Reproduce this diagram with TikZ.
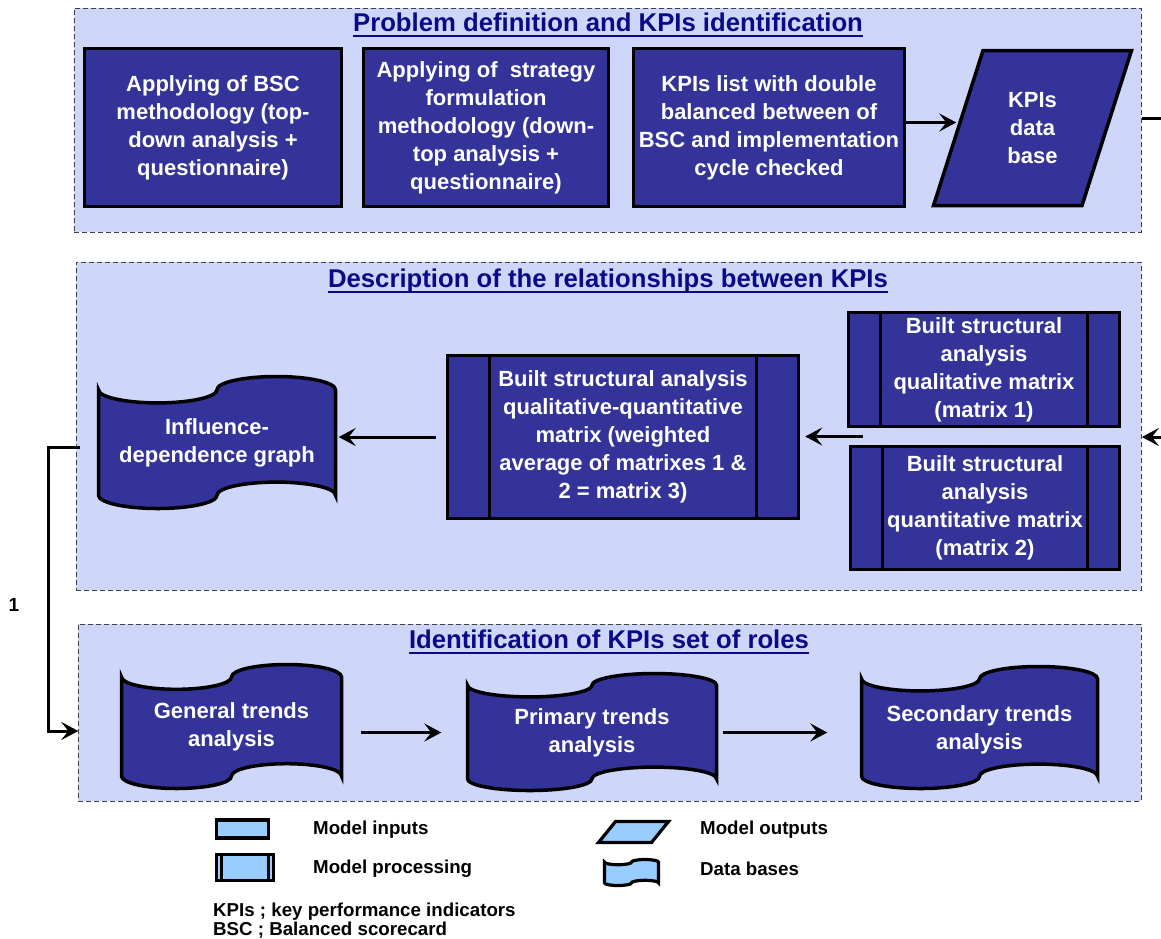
\documentclass[tikz,border=0pt]{standalone}
\usepackage{fontspec}
\setmainfont{Liberation Sans}
\usetikzlibrary{arrows.meta,calc}

\definecolor{panelfill}{HTML}{CED6FA}
\definecolor{navybox}{HTML}{333399}
\definecolor{titleblue}{HTML}{0A0A88}
\definecolor{legendfill}{HTML}{99CCFF}

\tikzset{
  panel/.style={draw=black!75, line width=0.9pt, dash pattern=on 5pt off 3pt, fill=panelfill, inner sep=0},
  boxtext/.style={text=white, font=\bfseries\fontsize{22}{28}\selectfont, align=center, inner sep=0},
  inbox/.style={boxtext, draw=black, line width=3.5pt, fill=navybox},
  shapeline/.style={draw=black, line width=3.5pt, fill=navybox},
  procline/.style={draw=black, line width=3pt},
  conn/.style={draw=black, line width=3pt, -{Stealth[length=17pt,width=18pt,inset=7pt]}},
  plainline/.style={draw=black, line width=3pt},
  paneltitle/.style={text=titleblue, font=\bfseries\fontsize{25.7}{30}\selectfont, inner sep=0, anchor=base},
  titlerule/.style={draw=titleblue, line width=2.2pt},
  legshape/.style={draw=black, line width=3.2pt, fill=legendfill, inner sep=0},
  legtext/.style={font=\bfseries\fontsize{18.7}{19}\selectfont, inner sep=0, anchor=west, align=left},
  numlabel/.style={font=\bfseries\fontsize{19}{22}\selectfont, inner sep=0},
}

% Punched-tape outline: #1 style, #2 left x, #3 top y, #4 width, #5 height
\newcommand{\tapepath}[5]{%
  \pgfmathsetmacro{\tpq}{(#4)/4}%
  \pgfmathsetmacro{\tpa}{(#5)/10}%
  \pgfmathsetmacro{\tpka}{0.5523*\tpa}%
  \pgfmathsetmacro{\tpkq}{0.5523*\tpq}%
  \pgfmathsetmacro{\tptop}{#3+\tpa}%
  \pgfmathsetmacro{\tpbot}{#3+9*\tpa}%
  \pgfmathsetmacro{\tpr}{#2+#4}%
  \draw[#1] (#2,\tptop)
    .. controls (#2,\tptop+\tpka) and (#2+\tpq-\tpkq,\tptop+\tpa) .. (#2+\tpq,\tptop+\tpa)
    .. controls (#2+\tpq+\tpkq,\tptop+\tpa) and (#2+2*\tpq,\tptop+\tpka) .. (#2+2*\tpq,\tptop)
    .. controls (#2+2*\tpq,\tptop-\tpka) and (#2+3*\tpq-\tpkq,\tptop-\tpa) .. (#2+3*\tpq,\tptop-\tpa)
    .. controls (#2+3*\tpq+\tpkq,\tptop-\tpa) and (\tpr,\tptop-\tpka) .. (\tpr,\tptop)
    -- (\tpr,\tpbot)
    .. controls (\tpr,\tpbot-\tpka) and (#2+3*\tpq+\tpkq,\tpbot-\tpa) .. (#2+3*\tpq,\tpbot-\tpa)
    .. controls (#2+3*\tpq-\tpkq,\tpbot-\tpa) and (#2+2*\tpq,\tpbot-\tpka) .. (#2+2*\tpq,\tpbot)
    .. controls (#2+2*\tpq,\tpbot+\tpka) and (#2+\tpq+\tpkq,\tpbot+\tpa) .. (#2+\tpq,\tpbot+\tpa)
    .. controls (#2+\tpq-\tpkq,\tpbot+\tpa) and (#2,\tpbot+\tpka) .. (#2,\tpbot)
    -- cycle;%
}

\begin{document}
\begin{tikzpicture}[x=1pt, y=-1pt]
\useasboundingbox (0,0) rectangle (1161,938);

% ---------- panels ----------
\node[panel, minimum width=1067, minimum height=224, anchor=north west] (toppanel) at (74,8) {};
\node[panel, minimum width=1065, minimum height=328, anchor=north west] (midpanel) at (76,262) {};
\node[panel, minimum width=1063, minimum height=177, anchor=north west] (botpanel) at (78,624) {};

% ---------- panel titles ----------
\node[paneltitle] (t1) at (608,31) {Problem definition and KPIs identification};
\draw[titlerule] ([yshift=-5pt]t1.base west) -- ([yshift=-5pt]t1.base east);
\node[paneltitle] (t2) at (608,287) {Description of the relationships between KPIs};
\draw[titlerule] ([yshift=-5pt]t2.base west) -- ([yshift=-5pt]t2.base east);
\node[paneltitle] (t3) at (609,648) {Identification of KPIs set of roles};
\draw[titlerule] ([yshift=-5pt]t3.base west) -- ([yshift=-5pt]t3.base east);

% ---------- problem definition ----------
\node[inbox, minimum width=257, minimum height=158] (box1) at (213,127.5)
  {Applying of BSC\\methodology (top-\\down analysis +\\questionnaire)};
\node[inbox, minimum width=245, minimum height=158] (box2) at (486,127.5)
  {Applying of\ \ strategy\\formulation\\methodology (down-\\top analysis +\\questionnaire)};
\node[inbox, minimum width=271, minimum height=158] (box3) at (769,127.5)
  {KPIs list with double\\balanced between of\\BSC and implementation\\cycle checked};

\coordinate (pa) at (933.5,205.5);
\coordinate (pb) at (983,50.5);
\coordinate (pc) at (1131.5,50.5);
\coordinate (pd) at (1082,205.5);
\draw[shapeline] (pa) -- (pb) -- (pc) -- (pd) -- cycle;
\node[boxtext] (kpidb) at (1032.5,128) {KPIs\\data\\base};

\draw[conn] ([yshift=5pt]box3.east) -- ++(50,0);
\coordinate (rout) at (1161,118);
\draw[plainline] (rout -| toppanel.east) -- (rout);

% ---------- relationships between KPIs ----------
\node[inbox, minimum width=271, minimum height=114] (m1) at (984,369.5)
  {Built structural\\analysis\\qualitative matrix\\(matrix 1)};
\draw[procline] ([xshift=34pt]m1.north west) -- ([xshift=34pt]m1.south west);
\draw[procline] ([xshift=-34pt]m1.north east) -- ([xshift=-34pt]m1.south east);

\node[inbox, minimum width=269, minimum height=123] (m2) at (985,508)
  {Built structural\\analysis\\quantitative matrix\\(matrix 2)};
\draw[procline] ([xshift=34pt]m2.north west) -- ([xshift=34pt]m2.south west);
\draw[procline] ([xshift=-34pt]m2.north east) -- ([xshift=-34pt]m2.south east);

\node[inbox, minimum width=351, minimum height=163] (m3) at (623,437)
  {Built structural analysis\\qualitative-quantitative\\matrix (weighted\\average of matrixes 1 \&\\2 = matrix 3)};
\draw[procline] ([xshift=44pt]m3.north west) -- ([xshift=44pt]m3.south west);
\draw[procline] ([xshift=-44pt]m3.north east) -- ([xshift=-44pt]m3.south east);

\tapepath{shapeline}{98.5}{376.5}{237}{132}
\node[boxtext, minimum width=237, minimum height=106] (infl) at (217,442.5) {Influence-\\dependence graph};

\coordinate (rin) at (1161,437);
\draw[conn] (rin) -- (rin -| midpanel.east);
\coordinate (mgap) at ($(m1.south west)!.5!(m2.north west)$);
\draw[conn] ([xshift=15pt]mgap) -- ([xshift=5pt]mgap -| m3.east);
\draw[conn] ([xshift=-10pt]m3.west) -- ([xshift=3pt]m3.west -| infl.east);

% ---------- set of roles ----------
\tapepath{shapeline}{121.5}{664.5}{220}{124}
\node[boxtext, minimum width=220, minimum height=99] (gen) at (231.5,726.5) {General trends\\analysis};
\tapepath{shapeline}{467.5}{673.5}{249}{117}
\node[boxtext, minimum width=249, minimum height=94] (prim) at (592,732.5) {Primary trends\\analysis};
\tapepath{shapeline}{861.5}{666.5}{236}{122}
\node[boxtext, minimum width=236, minimum height=98] (sec) at (979.5,729.5) {Secondary trends\\analysis};

\draw[conn] ([xshift=19pt]prim.west -| gen.east) -- ([xshift=-26pt]prim.west);
\draw[conn] ([xshift=6pt]prim.east) -- ([xshift=-34pt]prim.east -| sec.west);

% feedback from the graph to the trends analysis
\draw[conn] ([xshift=-18pt,yshift=-4.5pt]infl.west) -- ++(-32,0) |- ([xshift=-43pt,yshift=-4.5pt]gen.west);
\node[numlabel] (one) at (14,605) {1};

% ---------- legend ----------
\node[legshape, minimum width=52, minimum height=18] (legin) at (242.5,829) {};
\node[legtext] (ltin) at (313,830) {Model inputs};

\node[legshape, minimum width=57, minimum height=26] (legproc) at (245,867.5) {};
\draw[procline] ([xshift=7pt]legproc.north west) -- ([xshift=7pt]legproc.south west);
\draw[procline] ([xshift=-7pt]legproc.north east) -- ([xshift=-7pt]legproc.south east);
\node[legtext] (ltproc) at (313,869) {Model processing};

\draw[legshape] (598.5,842.5) -- (615.5,821.5) -- (668.5,821.5) -- (651.5,842.5) -- cycle;
\node[legtext] (ltout) at (700,830) {Model outputs};

\tapepath{legshape}{604.5}{859.5}{54}{26}
\node[legtext] (ltdb) at (700,869) {Data bases};

\node[legtext] (abbr) at (213,920.5) {KPIs ; key performance indicators\\BSC ; Balanced scorecard};
\end{tikzpicture}
\end{document}
